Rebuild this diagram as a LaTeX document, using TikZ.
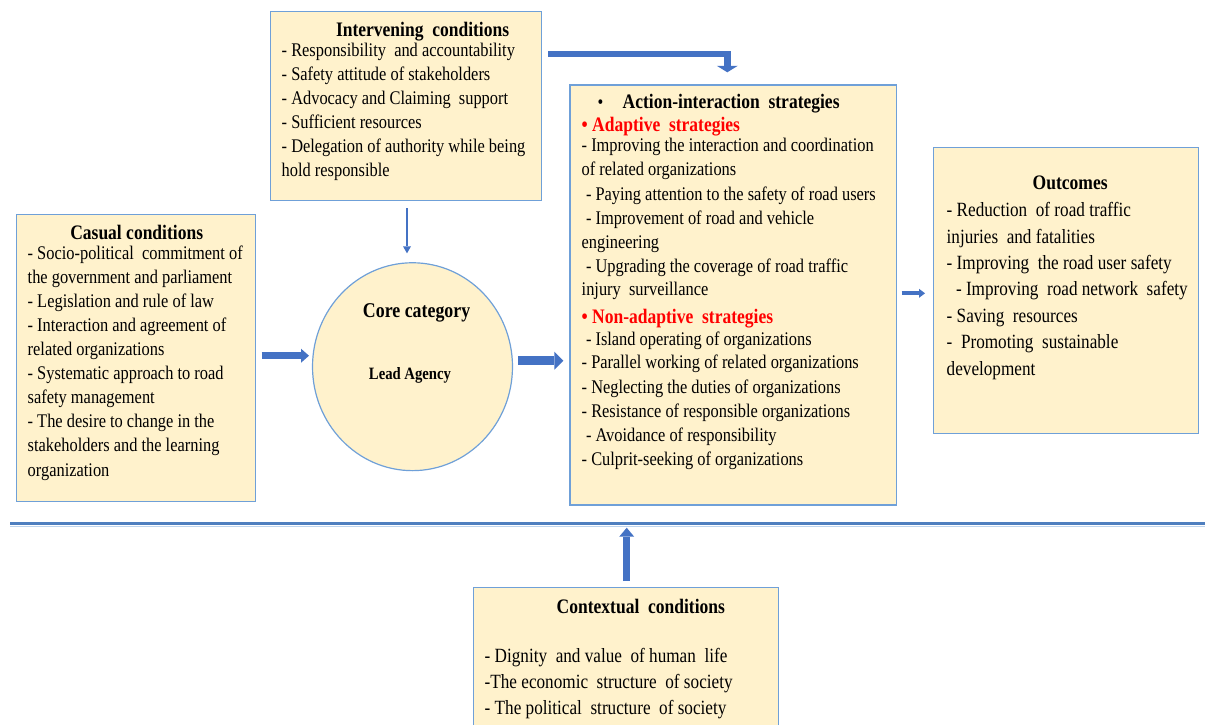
\documentclass[tikz,border=0pt]{standalone}
\usepackage{fontspec}
\setmainfont{Liberation Serif}[FakeStretch=0.85]
\usetikzlibrary{arrows.meta,shapes.geometric}
\definecolor{boxfill}{HTML}{FFF2CC}
\definecolor{boxline}{HTML}{6FA0D8}
\definecolor{arrowblue}{HTML}{4472C4}
\definecolor{linedark}{HTML}{4F7FBF}
\definecolor{redtxt}{HTML}{FF0000}
\newcommand{\boxtext}[4]{\parbox[c][#1][t]{#2}{\raggedright\leftskip=#3\relax\rightskip=-100pt plus 1fil\relax\lineskiplimit=-100pt\lineskip=0pt #4}}
\begin{document}
\begin{tikzpicture}[x=1pt,y=-1pt,
  box/.style={draw=boxline, fill=boxfill, line width=1.2pt, inner sep=0pt, outer sep=0pt},
  barrow/.style n args={3}{draw=arrowblue, line width=#1, line join=miter,
     -{Triangle[width=#2,length=#3,line width=0pt]}}]
\useasboundingbox (0,0) rectangle (1205,724);
\clip (0,0) rectangle (1205,724);

% Intervening conditions
\node[box, anchor=north west] (interv) at (270.7,11.7) {\boxtext{189pt}{271pt}{11pt}{\fontsize{19.3}{24}\selectfont\rule{0pt}{24.3pt}\hspace*{54.3pt}{\bfseries\fontsize{20.6}{24}\selectfont Intervening\ \ conditions}\\[-3.3pt]
- Responsibility\ \ and accountability\\
- Safety attitude of stakeholders\\
- Advocacy and Claiming\ \ support\\
- Sufficient resources\\
- Delegation of authority while being\\
hold responsible}};

% Casual conditions
\node[box, anchor=north west] (casual) at (16.6,214.3) {\boxtext{287.4pt}{238.7pt}{11.1pt}{\fontsize{19.3}{24.08}\selectfont\rule{0pt}{24.7pt}\hspace*{42.6pt}{\bfseries\fontsize{20.6}{24}\selectfont Casual conditions}\\[-3.8pt]
- Socio-political\ \ commitment of\\
the government and parliament\\
- Legislation\ and rule of law\\
- Interaction and agreement of\\
related organizations\\
- Systematic approach to road\\
safety management\\
- The desire to change in the\\
stakeholders and the learning\\
organization}};

% Core category
\node[box, ellipse] (core) at (412.5,366.7) {\parbox[c][147pt][t]{141.4pt}{\centering\lineskiplimit=-100pt\lineskip=0pt\fontsize{17.3}{62.5}\selectfont\rule{0pt}{23.8pt}\makebox[\linewidth]{\hspace*{8.2pt}\bfseries\fontsize{21}{24}\selectfont Core category}\\
\makebox[\linewidth]{\hspace*{-5pt}\bfseries Lead Agency}}};

% Action-interaction strategies
\node[box, anchor=north west] (action) at (570,85) {\boxtext{420pt}{326.7pt}{11.7pt}{\fontsize{19.3}{24.2}\selectfont\rule{0pt}{23.3pt}\hspace*{16pt}\makebox[25pt][l]{•}{\bfseries\fontsize{20.6}{24}\selectfont Action-interaction\ \ strategies}\\[-0.8pt]
{\color{redtxt}\bfseries\fontsize{20.6}{24}\selectfont • Adaptive\ \ strategies}\\[-4.2pt]
- Improving\ the interaction and coordination\\
of related organizations\\
\hspace*{4.3pt}- Paying attention to the safety of road users\\
\hspace*{4.3pt}- Improvement\ of road and vehicle\\
engineering\\
\hspace*{4.3pt}- Upgrading\ the coverage of road traffic\\[-1.9pt]
injury\ \ surveillance\\[4.1pt]
{\color{redtxt}\bfseries\fontsize{20.6}{24}\selectfont • Non-adaptive\ \ strategies}\\[-2.5pt]
\hspace*{4.3pt}- Island operating of organizations\\[-0.9pt]
- Parallel working\ of related organizations\\[0.8pt]
- Neglecting the duties of organizations\\
- Resistance of responsible\ organizations\\
\hspace*{4.3pt}- Avoidance of responsibility\\
- Culprit-seeking\ of organizations}};

% Outcomes
\node[box, anchor=north west] (outc) at (933.3,147.3) {\boxtext{286pt}{265pt}{13.4pt}{\fontsize{20.2}{26.4}\selectfont\rule{0pt}{42pt}\hspace*{86pt}{\bfseries\fontsize{20.6}{24}\selectfont Outcomes}\\[1pt]
- Reduction\ \ of road traffic\\
injuries\ \ and fatalities\\
- Improving\ \ the road user safety\\
\hspace*{9.3pt}- Improving\ \ road network\ \ safety\\
- Saving\ \ resources\\
-\ \ Promoting\ \ sustainable\\
development}};

% Contextual conditions
\node[box, anchor=north west] (ctx) at (473.4,587.7) {\boxtext{160pt}{304.9pt}{11.3pt}{\fontsize{20.2}{26}\selectfont\rule{0pt}{25.6pt}\hspace*{72pt}{\bfseries\fontsize{20.6}{24}\selectfont Contextual\ \ conditions}\\[23pt]
- Dignity\ \ and value\ \ of human\ \ life\\
-The economic\ \ structure\ \ of society\\
- The political\ \ structure\ \ of society}};

% separator line
\coordinate (lineL) at (10,523.3);
\coordinate (lineR) at (1205,523.3);
\draw[line width=1.2pt, draw=boxline!45] ([yshift=-3.2pt]lineL) -- ([yshift=-3.2pt]lineR);
\draw[line width=3.6pt, draw=linedark] (lineL) -- (lineR);

% arrow positions
\coordinate (yA) at (0,355.7);
\coordinate (yB) at (0,360.7);
\coordinate (yC) at (0,293.3);
\coordinate (pD) at (407,0);
\coordinate (pE) at (727.3,54);
\coordinate (pF) at (626.7,0);

\draw[barrow={6.5pt}{14pt}{8pt}, shorten <=6.4pt, shorten >=3.5pt] (casual.east |- yA) -- (core.west |- yA);
\draw[barrow={8.5pt}{18pt}{9pt}, shorten <=5.8pt, shorten >=6.7pt] (core.east |- yB) -- (action.west |- yB);
\draw[barrow={4pt}{9pt}{6pt}, shorten <=5pt, shorten >=8.3pt] (action.east |- yC) -- (outc.west |- yC);
\draw[barrow={2.4pt}{8pt}{7pt}, shorten <=7.3pt, shorten >=9.4pt] (interv.south -| pD) -- (core.north -| pD);
\draw[barrow={6.5pt}{21pt}{6.5pt}, shorten <=6.6pt, shorten >=12.7pt] (interv.east |- pE) -| (action.north -| pE);
\draw[barrow={7.5pt}{15pt}{9pt}, shorten <=6.7pt, shorten >=4.4pt] (ctx.north -| pF) -- (lineL -| pF);
\end{tikzpicture}
\end{document}
